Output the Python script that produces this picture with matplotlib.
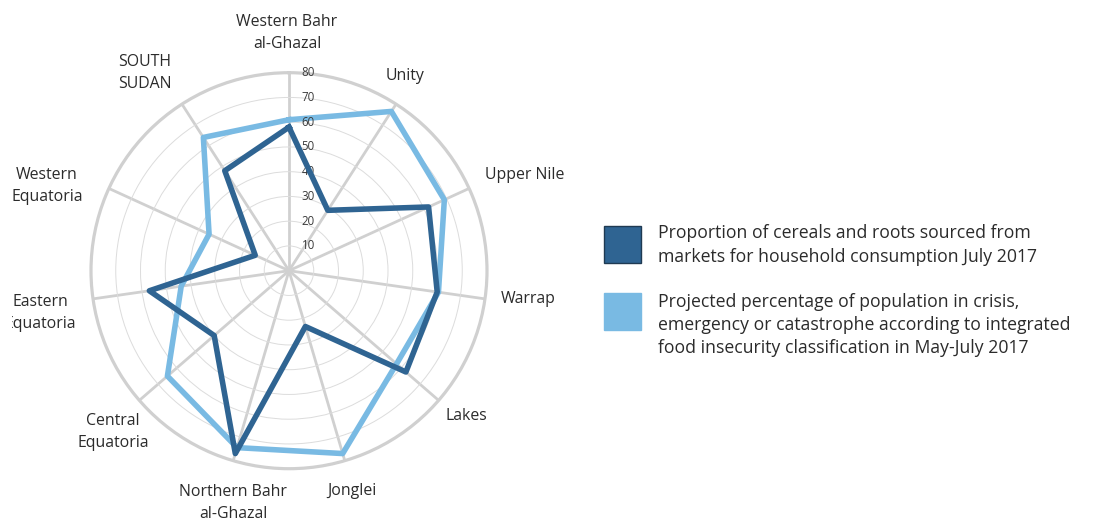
import numpy as np
import matplotlib.pyplot as plt
from matplotlib.patches import Rectangle

plt.rcParams['font.family'] = ['Open Sans', 'DejaVu Sans']

categories = ['Western Bahr\nal-Ghazal', 'Unity', 'Upper Nile', 'Warrap', 'Lakes',
              'Jonglei', 'Northern Bahr\nal-Ghazal', 'Central\nEquatoria',
              'Eastern\nEquatoria', 'Western\nEquatoria', 'SOUTH\nSUDAN']
market_share = [58, 29, 62, 60.5, 62.5, 23.5, 77, 40, 57, 15, 48]
crisis_share = [61, 76.5, 69, 61, 57.5, 77, 74.5, 65, 44, 35.5, 64]
radial_ticks = [10, 20, 30, 40, 50, 60, 70, 80]

legend_labels = ['Proportion of cereals and roots sourced from\nmarkets for household consumption July 2017',
                 'Projected percentage of population in crisis,\nemergency or catastrophe according to integrated\nfood insecurity classification in May-July 2017']

dark = '#2f6492'
light = '#79bae3'
grid_col = '#d0d0d0'
text_col = '#2b2b2b'

W, H = 1098, 525
fig = plt.figure(figsize=(W / 100, H / 100), dpi=100)
cx, cy, R = 289, 270.7, 198
ax = fig.add_axes([(cx - R) / W, (H - cy - R) / H, 2 * R / W, 2 * R / H], projection='polar')
ax.set_theta_zero_location('N')
ax.set_theta_direction(-1)

n = len(categories)
theta = np.arange(n) * 2 * np.pi / n
ax.set_ylim(0, 80)
ax.set_xticks(theta)
ax.set_xticklabels([])
ax.set_yticks(radial_ticks[:-1])
ax.set_yticklabels([])
ax.xaxis.grid(True, color=grid_col, lw=2)
ax.yaxis.grid(True, color='#dcdcdc', lw=0.7)
ax.spines['polar'].set_color(grid_col)
ax.spines['polar'].set_linewidth(2.3)
ax.tick_params(length=0)

th = np.append(theta, theta[0])
ax.plot(th, np.append(crisis_share, crisis_share[0]), color=light, lw=4, zorder=3)
ax.plot(th, np.append(market_share, market_share[0]), color=dark, lw=4, zorder=4)

for v in radial_ticks:
    ax.annotate(str(v), (0, v), xytext=(9, 0), textcoords='offset points',
                ha='left', va='center', fontsize=8.3, color='#3a3a3a', annotation_clip=False)

# category label centres in pixels (Excel-style placement)
label_pos = [(287, 33), (405, 76), (525, 175), (528, 299), (466, 416), (352, 491),
             (233, 503), (113, 432), (40, 313), (47, 186), (145, 73)]
for lab, (px, py) in zip(categories, label_pos):
    fig.text(px / W, 1 - py / H, lab, ha='center', va='center', fontsize=11.4,
             color=text_col, linespacing=1.47)

# legend
for (y0, col, lab, ty) in [(226, dark, legend_labels[0], 245), (293, light, legend_labels[1], 325)]:
    fig.patches.append(Rectangle((604 / W, 1 - (y0 + 37) / H), 37 / W, 37 / H,
                                 transform=fig.transFigure, facecolor=col,
                                 edgecolor='#1f3a52' if col == dark else col, lw=1))
    fig.text(658 / W, 1 - ty / H, lab, ha='left', va='center', fontsize=12.7,
             color=text_col, linespacing=1.38)

# reference image is cropped on the left edge
fig.patches.append(Rectangle((0, 0), 12 / W, 1, transform=fig.transFigure,
                             facecolor='white', edgecolor='none', zorder=10))

fig.savefig('out.png', dpi=100)
